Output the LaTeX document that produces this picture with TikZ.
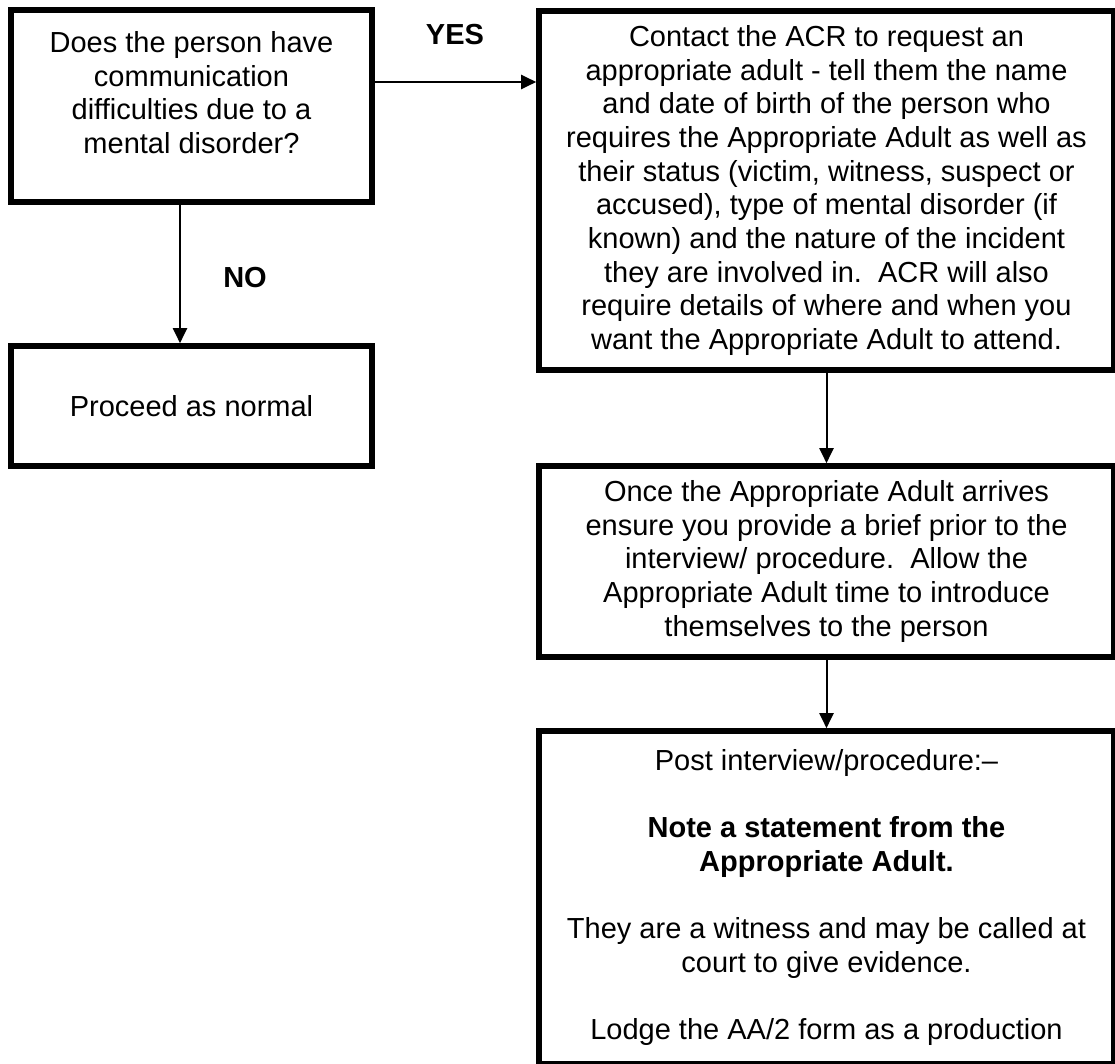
\documentclass[tikz,border=0pt]{standalone}
\usepackage{fontspec}
\setmainfont{Liberation Sans}
\usetikzlibrary{arrows.meta}

\begin{document}
\begin{tikzpicture}[
			x=0.5pt, y=-0.5pt,
			every node/.style={font=\fontsize{14.5}{16.85}\selectfont},
			box/.style={draw=black, line width=2.8pt, align=center, minimum width=287.5pt},
			smallbox/.style={box, minimum width=180.5pt},
			answer/.style={font=\fontsize{14.5}{16.85}\selectfont\bfseries},
			myarrow/.style={-{Triangle[length=7.5pt, width=7pt]}, line width=1pt, black}
			]
			\useasboundingbox (0,0) rectangle (1115,1064);
			% left column
			\node[smallbox, minimum height=96pt] (question) at (191.5,106) {};
			\node[align=center, anchor=north, inner sep=0pt] (questiontext) at (191.5,31) {Does the person have\\communication\\difficulties due to a\\mental disorder?};
			\node[smallbox, minimum height=60pt] (normal) at (191.5,406) {Proceed as normal};
			% right column
			\node[box, minimum height=179.5pt] (contact) at (826.5,190.5) {Contact the ACR to request an\\appropriate adult - tell them the name\\and date of birth of the person who\\requires the Appropriate Adult as well as\\their status (victim, witness, suspect or\\accused), type of mental disorder (if\\known) and the nature of the incident\\they are involved in.\ \ ACR will also\\require details of where and when you\\want the Appropriate Adult to attend.};
			\node[box, minimum height=95.5pt] (arrives) at (826.5,561.5) {Once the Appropriate Adult arrives\\ensure you provide a brief prior to the\\interview/ procedure.\ \ Allow the\\Appropriate Adult time to introduce\\themselves to the person};
			\node[box, minimum height=166.5pt] (post) at (826.5,897.5) {Post interview/procedure:--\\[16.85pt]\textbf{Note a statement from the}\\\textbf{Appropriate Adult.}\\[16.85pt]They are a witness and may be called at\\court to give evidence.\\[16.85pt]Lodge the AA/2 form as a production};
			% answers
			\node[answer] (yes) at (455,35) {YES};
			\node[answer] (no) at (245,278) {NO};
			\coordinate (yesrow) at (0,82);
			\coordinate (nocol) at (180,0);
			\draw[myarrow] (question.east |- yesrow) -- (contact.west |- yesrow);
			\draw[myarrow] (question.south -| nocol) -- (normal.north -| nocol);
			\draw[myarrow] (contact.south) -- (arrives.north);
			\draw[myarrow] (arrives.south) -- (post.north);
		\end{tikzpicture}
\end{document}
